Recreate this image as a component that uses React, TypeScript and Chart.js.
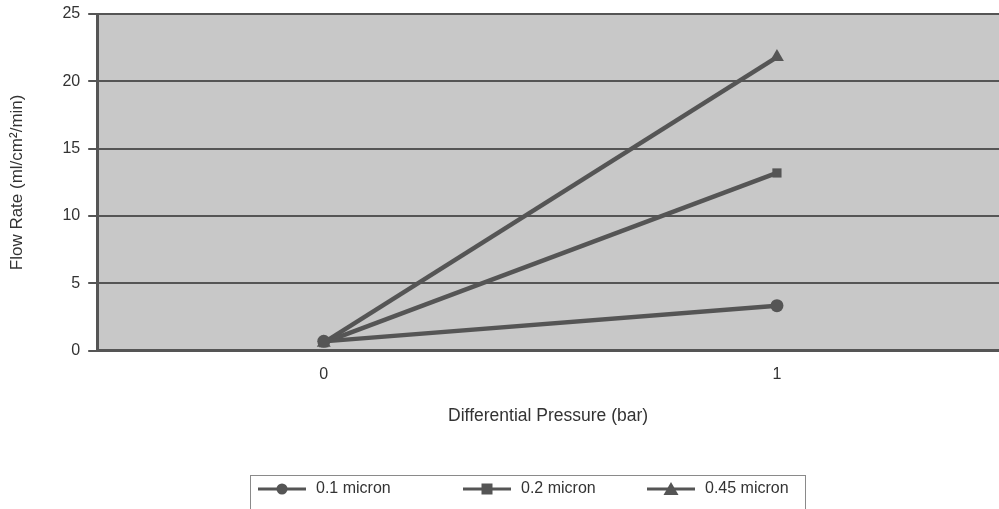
import React, { useEffect, useRef } from "react";
import { Chart, registerables } from "chart.js";

Chart.register(...registerables);

const xValues = [0, 1];
const xTickLabels = ["0", "1"];
const seriesNames = ["0.1 micron", "0.2 micron", "0.45 micron"];
const series01 = [0.7, 3.35];
const series02 = [0.6, 13.2];
const series045 = [0.6, 21.8];
const yTicks = [0, 5, 10, 15, 20, 25];
const pointStyles = ["circle", "rect", "triangle"];

const LINE = "#555555";
const FONT = "'Liberation Sans', Arial, sans-serif";

const plotBg = {
  id: "plotBg",
  beforeDraw(chart: any) {
    const { ctx, chartArea } = chart;
    ctx.save();
    ctx.fillStyle = "#c8c8c8";
    ctx.fillRect(chartArea.left, chartArea.top, chartArea.right - chartArea.left, chartArea.bottom - chartArea.top);
    ctx.restore();
  },
};

const boxLegend = {
  id: "boxLegend",
  afterDraw(chart: any) {
    const { ctx } = chart;
    const boxLeft = 250;
    const boxTop = 475;
    const boxW = 555;
    const boxH = 40;
    ctx.save();
    ctx.strokeStyle = "#8a8a8a";
    ctx.lineWidth = 1;
    ctx.strokeRect(boxLeft + 0.5, boxTop + 0.5, boxW, boxH);
    const itemStarts = [258, 463, 647];
    const cy = 489;
    ctx.font = `16px ${FONT}`;
    ctx.textBaseline = "middle";
    chart.data.datasets.forEach((ds: any, i: number) => {
      const x0 = itemStarts[i];
      ctx.strokeStyle = LINE;
      ctx.lineWidth = 3;
      ctx.beginPath();
      ctx.moveTo(x0, cy);
      ctx.lineTo(x0 + 48, cy);
      ctx.stroke();
      ctx.fillStyle = LINE;
      const mx = x0 + 24;
      const st = ds.pointStyle;
      ctx.beginPath();
      if (st === "circle") {
        ctx.arc(mx, cy, 5.5, 0, Math.PI * 2);
      } else if (st === "rect") {
        ctx.rect(mx - 5.5, cy - 5.5, 11, 11);
      } else {
        ctx.moveTo(mx, cy - 7);
        ctx.lineTo(mx + 7.5, cy + 6);
        ctx.lineTo(mx - 7.5, cy + 6);
        ctx.closePath();
      }
      ctx.fill();
      ctx.fillStyle = "#333333";
      ctx.textAlign = "left";
      ctx.fillText(ds.label, x0 + 58, cy);
    });
    ctx.restore();
  },
};

export default function App() {
  const ref = useRef<HTMLCanvasElement>(null);
  useEffect(() => {
    document.body.style.margin = "0";
    document.body.style.background = "#ffffff";
    const allSeries = [series01, series02, series045];
    const chart = new Chart(ref.current!, {
      type: "line",
      data: {
        datasets: allSeries.map((vals, i) => ({
          label: seriesNames[i],
          data: xValues.map((x, j) => ({ x, y: vals[j] })),
          borderColor: LINE,
          backgroundColor: LINE,
          borderWidth: 4.5,
          pointStyle: pointStyles[i] as any,
          pointRadius: i === 2 ? 8 : 6.5,
          pointBorderWidth: 0,
          tension: 0,
          clip: false as any,
        })),
      },
      options: {
        animation: false,
        responsive: false,
        maintainAspectRatio: false,
        layout: { autoPadding: false, padding: { top: 0, right: 0, bottom: 82, left: 0 } },
        plugins: {
          legend: { display: false },
          tooltip: { enabled: false },
        },
        scales: {
          x: {
            type: "linear",
            min: -0.5,
            max: 1.49,
            afterBuildTicks: (axis: any) => {
              axis.ticks = xValues.map((v) => ({ value: v }));
            },
            afterFit: (axis: any) => {
              axis.paddingLeft = 0;
              axis.paddingRight = 0;
            },
            ticks: {
              callback: (v: any) => {
                const idx = xValues.indexOf(Number(v));
                return idx >= 0 ? xTickLabels[idx] : "";
              },
              color: "#333333",
              font: { family: FONT, size: 16 },
              padding: 14,
              maxRotation: 0,
            },
            grid: { display: false, drawTicks: false },
            border: { display: true, color: LINE, width: 3 },
            title: {
              display: true,
              text: "Differential Pressure (bar)",
              color: "#333333",
              font: { family: FONT, size: 17.5 },
              padding: { top: 8, bottom: 0 },
            },
          },
          y: {
            min: 0,
            max: 25,
            afterBuildTicks: (axis: any) => {
              axis.ticks = yTicks.map((v) => ({ value: v }));
            },
            afterFit: (axis: any) => {
              axis.paddingTop = 14;
              axis.paddingBottom = 0;
            },
            ticks: {
              color: "#333333",
              font: { family: FONT, size: 16 },
              padding: 8,
            },
            grid: {
              color: LINE,
              lineWidth: 2,
              drawTicks: true,
              tickLength: 9,
            },
            border: { display: true, color: LINE, width: 3 },
            title: {
              display: true,
              text: "Flow Rate (ml/cm²/min)",
              color: "#333333",
              font: { family: FONT, size: 17 },
              padding: { top: 7, bottom: 27 },
            },
          },
        },
      },
      plugins: [plotBg, boxLegend],
    });
    return () => chart.destroy();
  }, []);
  return (
    <div style={{ width: 999, height: 509 }}>
      <canvas ref={ref} width={999} height={509} style={{ display: "block" }} />
    </div>
  );
}
